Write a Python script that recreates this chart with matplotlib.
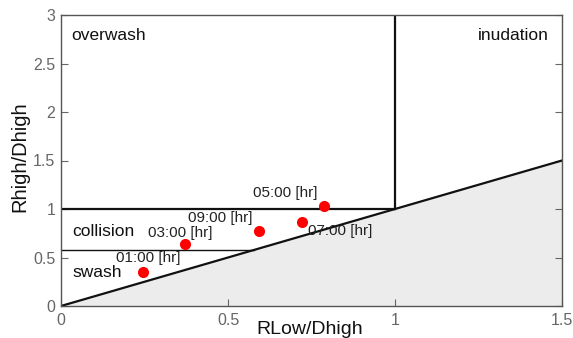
import matplotlib
matplotlib.use("Agg")
import matplotlib.pyplot as plt
import numpy as np

plt.rcParams["font.family"] = ["Liberation Sans", "DejaVu Sans"]

# observed storm-impact points
hours = ["01:00 [hr]", "03:00 [hr]", "09:00 [hr]", "07:00 [hr]", "05:00 [hr]"]
r_low = [0.245, 0.371, 0.593, 0.723, 0.787]
r_high = [0.354, 0.64, 0.776, 0.87, 1.034]
label_x = [0.261, 0.358, 0.476, 0.837, 0.67]
label_y = [0.49, 0.755, 0.91, 0.77, 1.16]

# regime boundaries
swash_top = 0.577
collision_top = 1.0
inundation_x = 1.0

regimes = ["overwash", "inudation", "collision", "swash"]
regime_x = [0.03, 1.46, 0.035, 0.035]
regime_y = [2.79, 2.79, 0.77, 0.35]
regime_ha = ["left", "right", "left", "left"]

fig = plt.figure(figsize=(5.73, 3.38), dpi=100)
ax = fig.add_axes([61 / 573, 1 - 306 / 338, 501 / 573, 291 / 338])

diag = np.array([0.0, 1.5])
ax.fill_between(diag, 0, diag, color="#ececec", zorder=0)
ax.plot(diag, diag, color="#111111", linewidth=1.6, zorder=2)
ax.plot([0, inundation_x], [collision_top, collision_top], color="#111111", linewidth=1.6, zorder=2)
ax.plot([inundation_x, inundation_x], [collision_top, 3], color="#111111", linewidth=1.6, zorder=2)
ax.plot([0, swash_top], [swash_top, swash_top], color="#111111", linewidth=1.0, zorder=2)

ax.plot(r_low, r_high, "o", color="#ff0000", markersize=8, markeredgewidth=0, zorder=3)
for txt, lx, ly in zip(hours, label_x, label_y):
    ax.text(lx, ly, txt, ha="center", va="center", fontsize=11, color="#222222")

for txt, rx, ry, ha in zip(regimes, regime_x, regime_y, regime_ha):
    ax.text(rx, ry, txt, ha=ha, va="center", fontsize=12.5, color="#111111")

ax.set_xlim(0, 1.5)
ax.set_ylim(0, 3)
ax.set_xticks([0, 0.5, 1, 1.5])
ax.set_xticklabels(["0", "0.5", "1", "1.5"])
ax.set_yticks([0, 0.5, 1, 1.5, 2, 2.5, 3])
ax.set_yticklabels(["0", "0.5", "1", "1.5", "2", "2.5", "3"])
ax.tick_params(direction="in", length=5, width=0.8, colors="#666666", labelsize=11.5,
               right=True, top=False)
ax.tick_params(axis="x", pad=5)
ax.tick_params(axis="y", pad=4)
for spine in ax.spines.values():
    spine.set_color("#555555")
    spine.set_linewidth(1.0)

ax.set_xlabel("RLow/Dhigh", fontsize=14, color="#111111", va="center")
ax.xaxis.set_label_coords(0.497, -23 / 291)
ax.set_ylabel("Rhigh/Dhigh", fontsize=14.5, color="#111111", va="center")
ax.yaxis.set_label_coords(-41 / 501, 0.512)

fig.savefig("out.png", dpi=100)
